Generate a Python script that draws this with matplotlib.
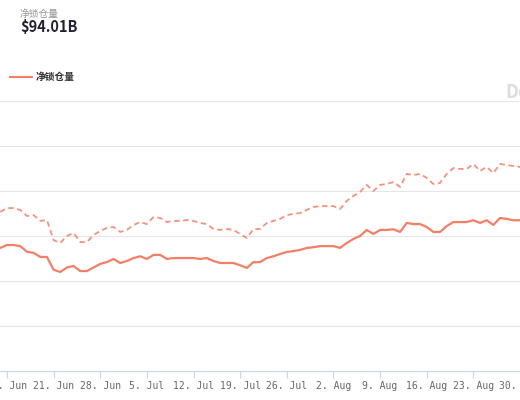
import numpy as np
import pandas as pd
import matplotlib
matplotlib.use("Agg")
import matplotlib.pyplot as plt
import matplotlib.dates as mdates

plt.rcParams['font.family'] = ['Noto Sans CJK SC', 'DejaVu Sans']

# daily values, 13 Jun - 30 Aug
dates = pd.date_range("2021-06-13", "2021-08-30", freq="D")
solid = [54.7, 56, 56, 55.5, 53, 52.5, 50.7, 50.7, 45, 44, 46, 46.7, 44.4, 44.4, 46,
         47.6, 48.4, 49.8, 48, 48.9, 50.2, 51, 49.8, 51.6, 51.6, 49.8, 50.2, 50.2, 50.2,
         50.2, 49.8, 50.2, 48.9, 48, 48, 48, 47, 45.8, 48.4, 48.4, 50.2, 51, 52, 52.9,
         53.3, 53.8, 54.7, 55, 55.5, 55.5, 55.5, 54.7, 56.9, 58.7, 60, 62.7, 60.9, 62.7,
         62.7, 63, 61.8, 65.8, 65.3, 65.3, 64, 61.8, 61.8, 64.4, 66.2, 66.2, 66.2, 67,
         65.8, 67, 64.9, 68, 67.6, 67, 67]
dashed = [70.7, 72.4, 72.4, 71.6, 68.9, 69.3, 66.7, 67.1, 58.2, 56.9, 60, 61.3, 57.3, 57.3,
          60.4, 62.2, 63.6, 64, 61.8, 62.7, 64.9, 66.2, 65.3, 68.4, 68, 66.2, 66.7, 66.7,
          67.1, 66.7, 65.8, 65.3, 63.1, 62.7, 63.1, 62.7, 60.9, 59.1, 63.1, 63.1, 65.8,
          66.7, 67.6, 69.3, 69.8, 70.2, 71.6, 72.9, 73.3, 73.3, 73.3, 72, 75.6, 77.8, 79.6,
          82.7, 80, 82.7, 83.1, 84, 81.8, 87.6, 87.1, 87.6, 85.8, 83.1, 83.6, 87.6, 90.2,
          89.8, 89.8, 92, 88.9, 90.7, 88, 92, 91.6, 91.1, 90.7]
ticks = pd.date_range("2021-06-14", "2021-08-30", freq="7D")

COLOR = "#f37f66"

fig = plt.figure(figsize=(5.2, 4.0), dpi=100)
ax = fig.add_axes([0, 0.0725, 1, 0.675])
ax.plot(dates, dashed, color=COLOR, lw=1.3, ls=(0, (3, 2)), alpha=0.85)
ax.plot(dates, solid, color=COLOR, lw=1.6)

ax.set_xlim(pd.Timestamp("2021-06-12 23:00"), pd.Timestamp("2021-08-30"))
ax.set_ylim(0, 120)
ax.set_yticks(np.arange(20, 121, 20))
ax.yaxis.grid(True, color="#e6e6e6", lw=0.8)
ax.tick_params(axis="y", left=False, labelleft=False)
ax.set_xticks(ticks)
ax.xaxis.set_major_formatter(mdates.DateFormatter("%-d. %b"))
ax.tick_params(axis="x", length=5, color="#ccd6eb", labelsize=7, labelcolor="#666666", pad=2)
for lab in ax.get_xticklabels():
    lab.set_family("DejaVu Sans Mono")
for s in ["top", "left", "right"]:
    ax.spines[s].set_visible(False)
ax.spines["bottom"].set_color("#ccd6eb")

fig.text(20 / 520, 1 - 14 / 400, "净锁仓量", fontsize=7, color="#999999", va="center")
fig.text(20 / 520, 1 - 27 / 400, "$94.01B", fontsize=10.5, fontweight="bold", color="#222233", va="center")
fig.add_artist(plt.Line2D([10 / 520, 32 / 520], [1 - 77 / 400] * 2, color=COLOR, lw=1.5))
fig.text(36 / 520, 1 - 77 / 400, "净锁仓量", fontsize=7, color="#333333", va="center", fontweight="bold")
fig.text(505 / 520, 1 - 93 / 400, "De", fontsize=13, color="#dddddd", fontweight="bold", va="center")

fig.savefig("out.png", dpi=100)
